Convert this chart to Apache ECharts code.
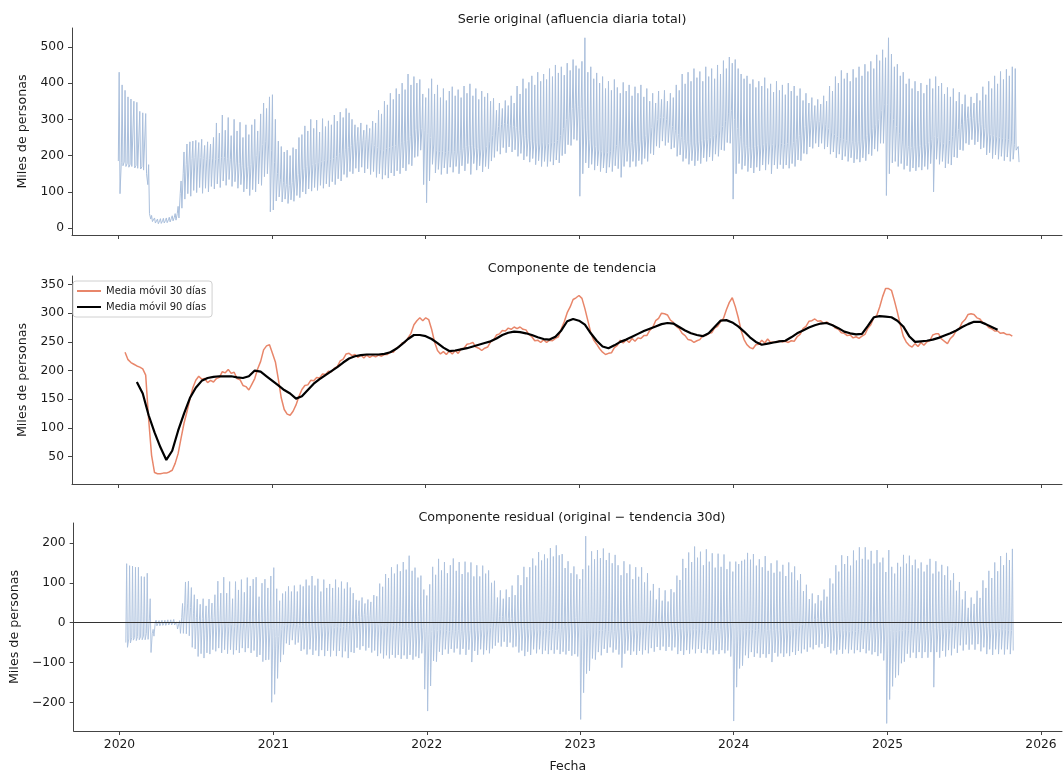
<!DOCTYPE html>
<html><head><meta charset="utf-8">
<script src="https://cdn.jsdelivr.net/npm/echarts@6/dist/echarts.min.js"></script>
<style>html,body{margin:0;padding:0;background:#fff}#c{width:1063px;height:774px}</style>
</head><body><div id="c"></div>
<script>
// Weekly readings, week 0 starts 2020-01-01 (one value per week for each kind of day)
const yearTicks = ['2020','2021','2022','2023','2024','2025','2026'];
// Weekly peak day (thousands of persons)
const weekPeak = [
430,395,380,362,356,350,347,322,318,316, 175,35,28,25,26,27,28,30,34,40,
60,130,210,232,238,240,242,236,245,228, 238,232,
250,290,262,312,270,305,255,300,268,292, 250,285,
258,285,300,268,315,345,330,362,368,
300,240,225,210,215,200,222,218,250,258, 282,268,300,275,298,265,302,280,296,285,
312,295,320,305,330,318,300,285,278,290, 270,285,275,295,290,325,315,350,340,372,
355,385,370,400,382,425,395,418,400,410, 370,360,
385,412,370,395,360,385,352,378,390,365, 382,360,392,372,398,365,385,355,378,362,
372,350,358,325,345,330,352,338,365,345, 392,370,412,385,402,420,395,430,405,425,
410,440,418,450,428,445,422,455,435,465, 448,440,
460,525,430,445,412,428,400,418,385,405, 380,410,388,372,402,378,395,365,390,372,
395,362,385,350,372,345,378,355,380,350, 372,360,395,380,425,398,430,405,440,415,
432,405,445,418,440,412,450,425,462,440, 472,455,
465,440,425,412,420,398,410,388,405,392, 415,385,398,375,405,380,395,368,400,378,
392,365,385,352,372,345,360,338,355,342, 365,350,392,378,418,400,435,412,428,405,
438,415,445,420,452,432,460,440,478,462, 492,470,525,
480,445,452,420,430,398,412,385,405,378, 400,372,395,412,385,418,392,400,370,388,
362,385,350,375,342,368,335,362,345,372, 352,390,368,405,385,420,398,432,410,438,
420,445,440,225
];
// Weekly ordinary weekday level
const weekBody = [
185,180,182,178,176,174,173,170,169,165, 120,25,22,19,20,20,21,23,27,30,
40,95,150,175,188,192,195,196,195,192, 190,191,193,190,192,194,195,193,190,188,
182,178,172,168,170,176,188,200,215,230, 238,232,215,
180,150,135,125,120,118,126,135,148,160, 165,170,174,175,178,180,184,186,188,190,
192,198,205,210,216,222,228,235,238,240, 242,245,240,235,228,222,218,215,220,222,
225,228,232,235,238,242,252,262,272,276, 275,270,
260,250,232,215,212,212,208,212,210,212, 210,215,220,225,228,228,222,220,218,218,
225,238,255,268,280,285,288,285,282,280, 278,270,262,255,248,242,238,235,232,235,
232,233,235,236,242,255,275,300,315,330, 340,335,
330,300,270,245,232,225,218,212,210,208, 212,218,228,240,232,235,232,236,234,238,
240,245,255,265,278,290,300,305,305,300, 290,280,270,258,250,242,238,235,232,235,
238,242,245,245,250,255,262,268,280,295, 315,325,
300,275,252,235,228,222,220,225,228,232, 230,235,232,230,232,232,234,230,233,232,
236,245,255,268,280,290,296,298,296,294, 290,285,275,265,258,252,248,245,242,240,
238,237,238,240,245,255,265,275,285,300, 325,340,340,
320,300,280,260,240,232,225,222,226,224, 228,226,230,236,245,252,250,240,234,232,
242,252,262,272,285,295,302,305,302,298, 292,285,275,265,258,255,252,250,248,246,
244,240,230,215
];
// Weekly low day (weekend / holidays)
const weekLow = [
95,172,170,168,170,166,165,163,160,150, 40,18,14,12,13,14,15,17,20,22,
28,55,80,95,88,104,98,112,96,110, 100,115,108,122,112,130,118,134,115,128,
110,120,100,108,90,106,100,122,118,142, 150,45,50,
75,86,72,80,68,78,74,90,84,100, 94,108,102,112,104,118,110,122,114,128,
120,136,130,148,140,156,150,165,155,168, 152,164,148,156,140,150,135,146,138,152,
144,158,150,166,158,176,172,195,198,215, 120,70,
130,176,152,162,148,166,150,168,154,170, 150,172,158,178,148,178,160,172,155,170,
164,185,195,212,204,222,208,224,210,216, 198,206,188,198,182,192,175,186,170,184,
170,184,174,188,180,200,205,230,228,245, 242,88,
150,180,166,176,160,172,156,166,152,168, 156,172,164,140,170,184,168,184,170,186,
176,192,184,206,202,226,222,240,228,236, 218,222,198,202,184,192,176,186,172,186,
178,194,184,196,186,204,198,216,214,236, 234,80,
150,178,162,172,156,166,152,168,158,174, 160,176,150,174,164,175,164,174,165,178,
170,188,186,206,204,224,220,234,224,234, 218,224,204,210,194,204,188,198,184,194,
180,190,182,194,186,204,200,218,212,234, 234,90,150,
180,184,170,178,162,172,156,166,158,168, 160,170,162,178,100,190,176,184,166,178,
174,196,194,216,214,234,230,244,230,238, 218,222,202,208,192,202,190,198,186,196,
184,190,215,182
];
// 30-day moving average, one value per week from week 2 to week 303
const ma30 = [
232,219,214,211,208,206,203,192, 115,52,22,20,20,21,21,23,26,38,
55,82,108,128,150,170,183,190,185,186, 179,183,180,186,188,198,196,202,195,197,
186,184,174,172,166,176,186,203,216,236, 243,245,230,
215,185,152,132,124,122,129,140,155,167, 174,175,183,182,188,187,194,193,199,198,
204,207,217,220,229,230,226,228,223,227, 222,227,223,226,224,227,225,228,228,233,
232,239,241,248,249,257,265,280,287,292, 287,292,
289,272,250,235,229,233,228,234,229,235, 230,238,239,246,247,249,241,239,235,239,
241,250,253,262,264,270,269,274,272,276, 273,276,272,271,263,259,252,253,249,254,
249,253,252,256,259,273,285,301,311,324, 327,331,
326,308,287,266,253,246,238,232,228,230, 231,240,244,253,248,254,249,256,251,257,
256,261,261,270,275,287,291,300,299,297, 288,284,277,273,265,261,254,253,249,252,
254,261,261,265,266,274,277,285,291,306, 319,327,
312,293,270,254,245,240,238,245,246,253, 248,255,249,250,249,252,250,251,249,252,
251,259,263,273,277,286,287,290,286,287, 282,285,281,280,274,272,266,265,261,262,
257,259,256,260,263,274,280,292,296,311, 329,343,343,
340,322,302,280,260,250,244,241,247,242, 249,244,250,252,262,264,264,255,251,247,
256,261,270,273,284,289,298,299,298,292, 290,284,281,275,273,269,269,265,266,263,
263,260
];
// 90-day moving average, one value every two weeks from week 6 to week 298
const ma90 = [
180,160,122,92,66,44,60,95,125,152, 170,182,187,189,190,190,190,188,187,190,
200,198,190,182,174,166,160,151,155,166, 177,185,192,199,206,214,221,225,227,228,
228,228,229,232,238,246,255,262,262,260, 255,248,240,234,235,237,239,242,245,248,
251,256,262,266,268,267,265,262,258,255, 254,259,270,286,290,287,280,265,252,242,
239,244,250,254,259,264,269,273,277,281, 283,282,276,270,265,262,260,265,276,287,
288,284,277,268,258,250,245,247,249,251, 252,258,265,270,275,279,282,283,279,274,
268,265,263,264,278,293,295,294,293,287, 277,260,250,251,252,254,257,261,265,270,
276,281,285,285,281,276,271
];

const DAY = 86400000;
const BASE = Date.UTC(2020, 0, 1);
const MA30_START = 2, MA90_START = 6, MA90_STEP = 2;
const t = (w, d) => BASE + (7 * w + d) * DAY;

const orig = [], resid = [], ma30Data = [], ma90Data = [];
for (let w = 0; w < weekPeak.length; w++) {
  orig.push([t(w, 1), weekBody[w]], [t(w, 3), weekPeak[w]], [t(w, 5), weekLow[w]]);
  const k = w - MA30_START;
  if (k >= 0 && k < ma30.length) {
    const m = ma30[k];
    resid.push([t(w, 1), weekBody[w] - m], [t(w, 3), weekPeak[w] - m], [t(w, 5), weekLow[w] - m]);
    ma30Data.push([t(w, 3), m]);
  }
}
ma90.forEach((v, k) => ma90Data.push([t(MA90_START + MA90_STEP * k, 3), v]));

const yearVals = yearTicks.map(y => Date.UTC(+y, 0, 1));
const FONT = 'DejaVu Sans';
const TXT = '#1a1a1a';
const AX = '#444';
const minus = v => (v < 0 ? '\u2212' + Math.abs(v) : String(v));

function xAx(i, labels) {
  return {
    type: 'value', gridIndex: i,
    min: Date.UTC(2019, 8, 14), max: Date.UTC(2026, 1, 20),
    axisLine: { show: true, onZero: false, lineStyle: { color: AX, width: 1 } },
    axisTick: { show: true, customValues: yearVals, length: 4, lineStyle: { color: AX, width: 1 } },
    axisLabel: labels ? { show: true, customValues: yearVals, margin: 8, fontSize: 12.3, color: TXT, fontFamily: FONT,
      formatter: v => String(new Date(v).getUTCFullYear()) } : { show: false },
    splitLine: { show: false },
    name: labels ? 'Fecha' : '', nameLocation: 'middle', nameGap: 29,
    nameTextStyle: { fontSize: 12.5, color: TXT, fontFamily: FONT }
  };
}
function yAx(i, min, max, ticks, gap) {
  return {
    type: 'value', gridIndex: i, min: min, max: max,
    axisLine: { show: true, onZero: false, lineStyle: { color: AX, width: 1 } },
    axisTick: { show: true, customValues: ticks, length: 4, lineStyle: { color: AX, width: 1 } },
    axisLabel: { show: true, customValues: ticks, margin: 8, fontSize: 12.3, color: TXT, fontFamily: FONT, formatter: minus },
    splitLine: { show: false },
    name: 'Miles de personas', nameLocation: 'middle', nameGap: gap, nameRotate: 90,
    nameTextStyle: { fontSize: 12.7, color: TXT, fontFamily: FONT }
  };
}
const ticksTop = [0, 100, 200, 300, 400, 500];
const ticksMid = [50, 100, 150, 200, 250, 300, 350];
const ticksBot = [-200, -100, 0, 100, 200];

const chart = echarts.init(document.getElementById('c'), null, { renderer: 'canvas' });
const titleStyle = { fontSize: 12.7, fontWeight: 'normal', color: TXT, fontFamily: FONT };
chart.setOption({
  animation: false,
  backgroundColor: '#fff',
  title: [
    { text: 'Serie original (afluencia diaria total)', left: 567, textAlign: 'center', top: 8, textStyle: titleStyle },
    { text: 'Componente de tendencia', left: 567, textAlign: 'center', top: 257, textStyle: titleStyle },
    { text: 'Componente residual (original \u2212 tendencia 30d)', left: 567, textAlign: 'center', top: 506, textStyle: titleStyle }
  ],
  legend: {
    data: [{ name: 'Media m\u00f3vil 30 d\u00edas', icon: 'rect' }, { name: 'Media m\u00f3vil 90 d\u00edas', icon: 'rect' }],
    left: 73, top: 281, orient: 'vertical', itemGap: 6, itemWidth: 24, itemHeight: 2,
    textStyle: { fontSize: 10, color: TXT, fontFamily: FONT },
    backgroundColor: 'rgba(255,255,255,0.85)', borderColor: '#d0d0d0', borderWidth: 1, borderRadius: 3,
    padding: [5, 6, 5, 4]
  },
  grid: [
    { left: 72, top: 28, width: 990, height: 207 },
    { left: 72, top: 276, width: 990, height: 208 },
    { left: 72, top: 523, width: 990, height: 209 }
  ],
  xAxis: [xAx(0, false), xAx(1, false), xAx(2, true)],
  yAxis: [yAx(0, -19, 552, ticksTop, 34), yAx(1, 2, 365, ticksMid, 34), yAx(2, -272, 250, ticksBot, 45)],
  series: [
    { type: 'line', name: 'Serie original', xAxisIndex: 0, yAxisIndex: 0, data: orig, symbol: 'none',
      lineStyle: { color: '#aabfdc', width: 1 }, itemStyle: { color: '#aabfdc' } },
    { type: 'line', name: 'Media m\u00f3vil 30 d\u00edas', xAxisIndex: 1, yAxisIndex: 1, data: ma30Data, symbol: 'none',
      lineStyle: { color: '#e8866a', width: 1.5 }, itemStyle: { color: '#e8866a' } },
    { type: 'line', name: 'Media m\u00f3vil 90 d\u00edas', xAxisIndex: 1, yAxisIndex: 1, data: ma90Data, symbol: 'none',
      lineStyle: { color: '#000', width: 2.2 }, itemStyle: { color: '#000' } },
    { type: 'line', name: 'Residual', xAxisIndex: 2, yAxisIndex: 2, data: resid, symbol: 'none',
      lineStyle: { color: '#aabfdc', width: 0.9 }, itemStyle: { color: '#aabfdc' },
      markLine: { silent: true, symbol: 'none', label: { show: false },
        lineStyle: { color: '#333', width: 1, type: 'solid' }, data: [{ yAxis: 0 }] } }
  ]
});
</script></body></html>
